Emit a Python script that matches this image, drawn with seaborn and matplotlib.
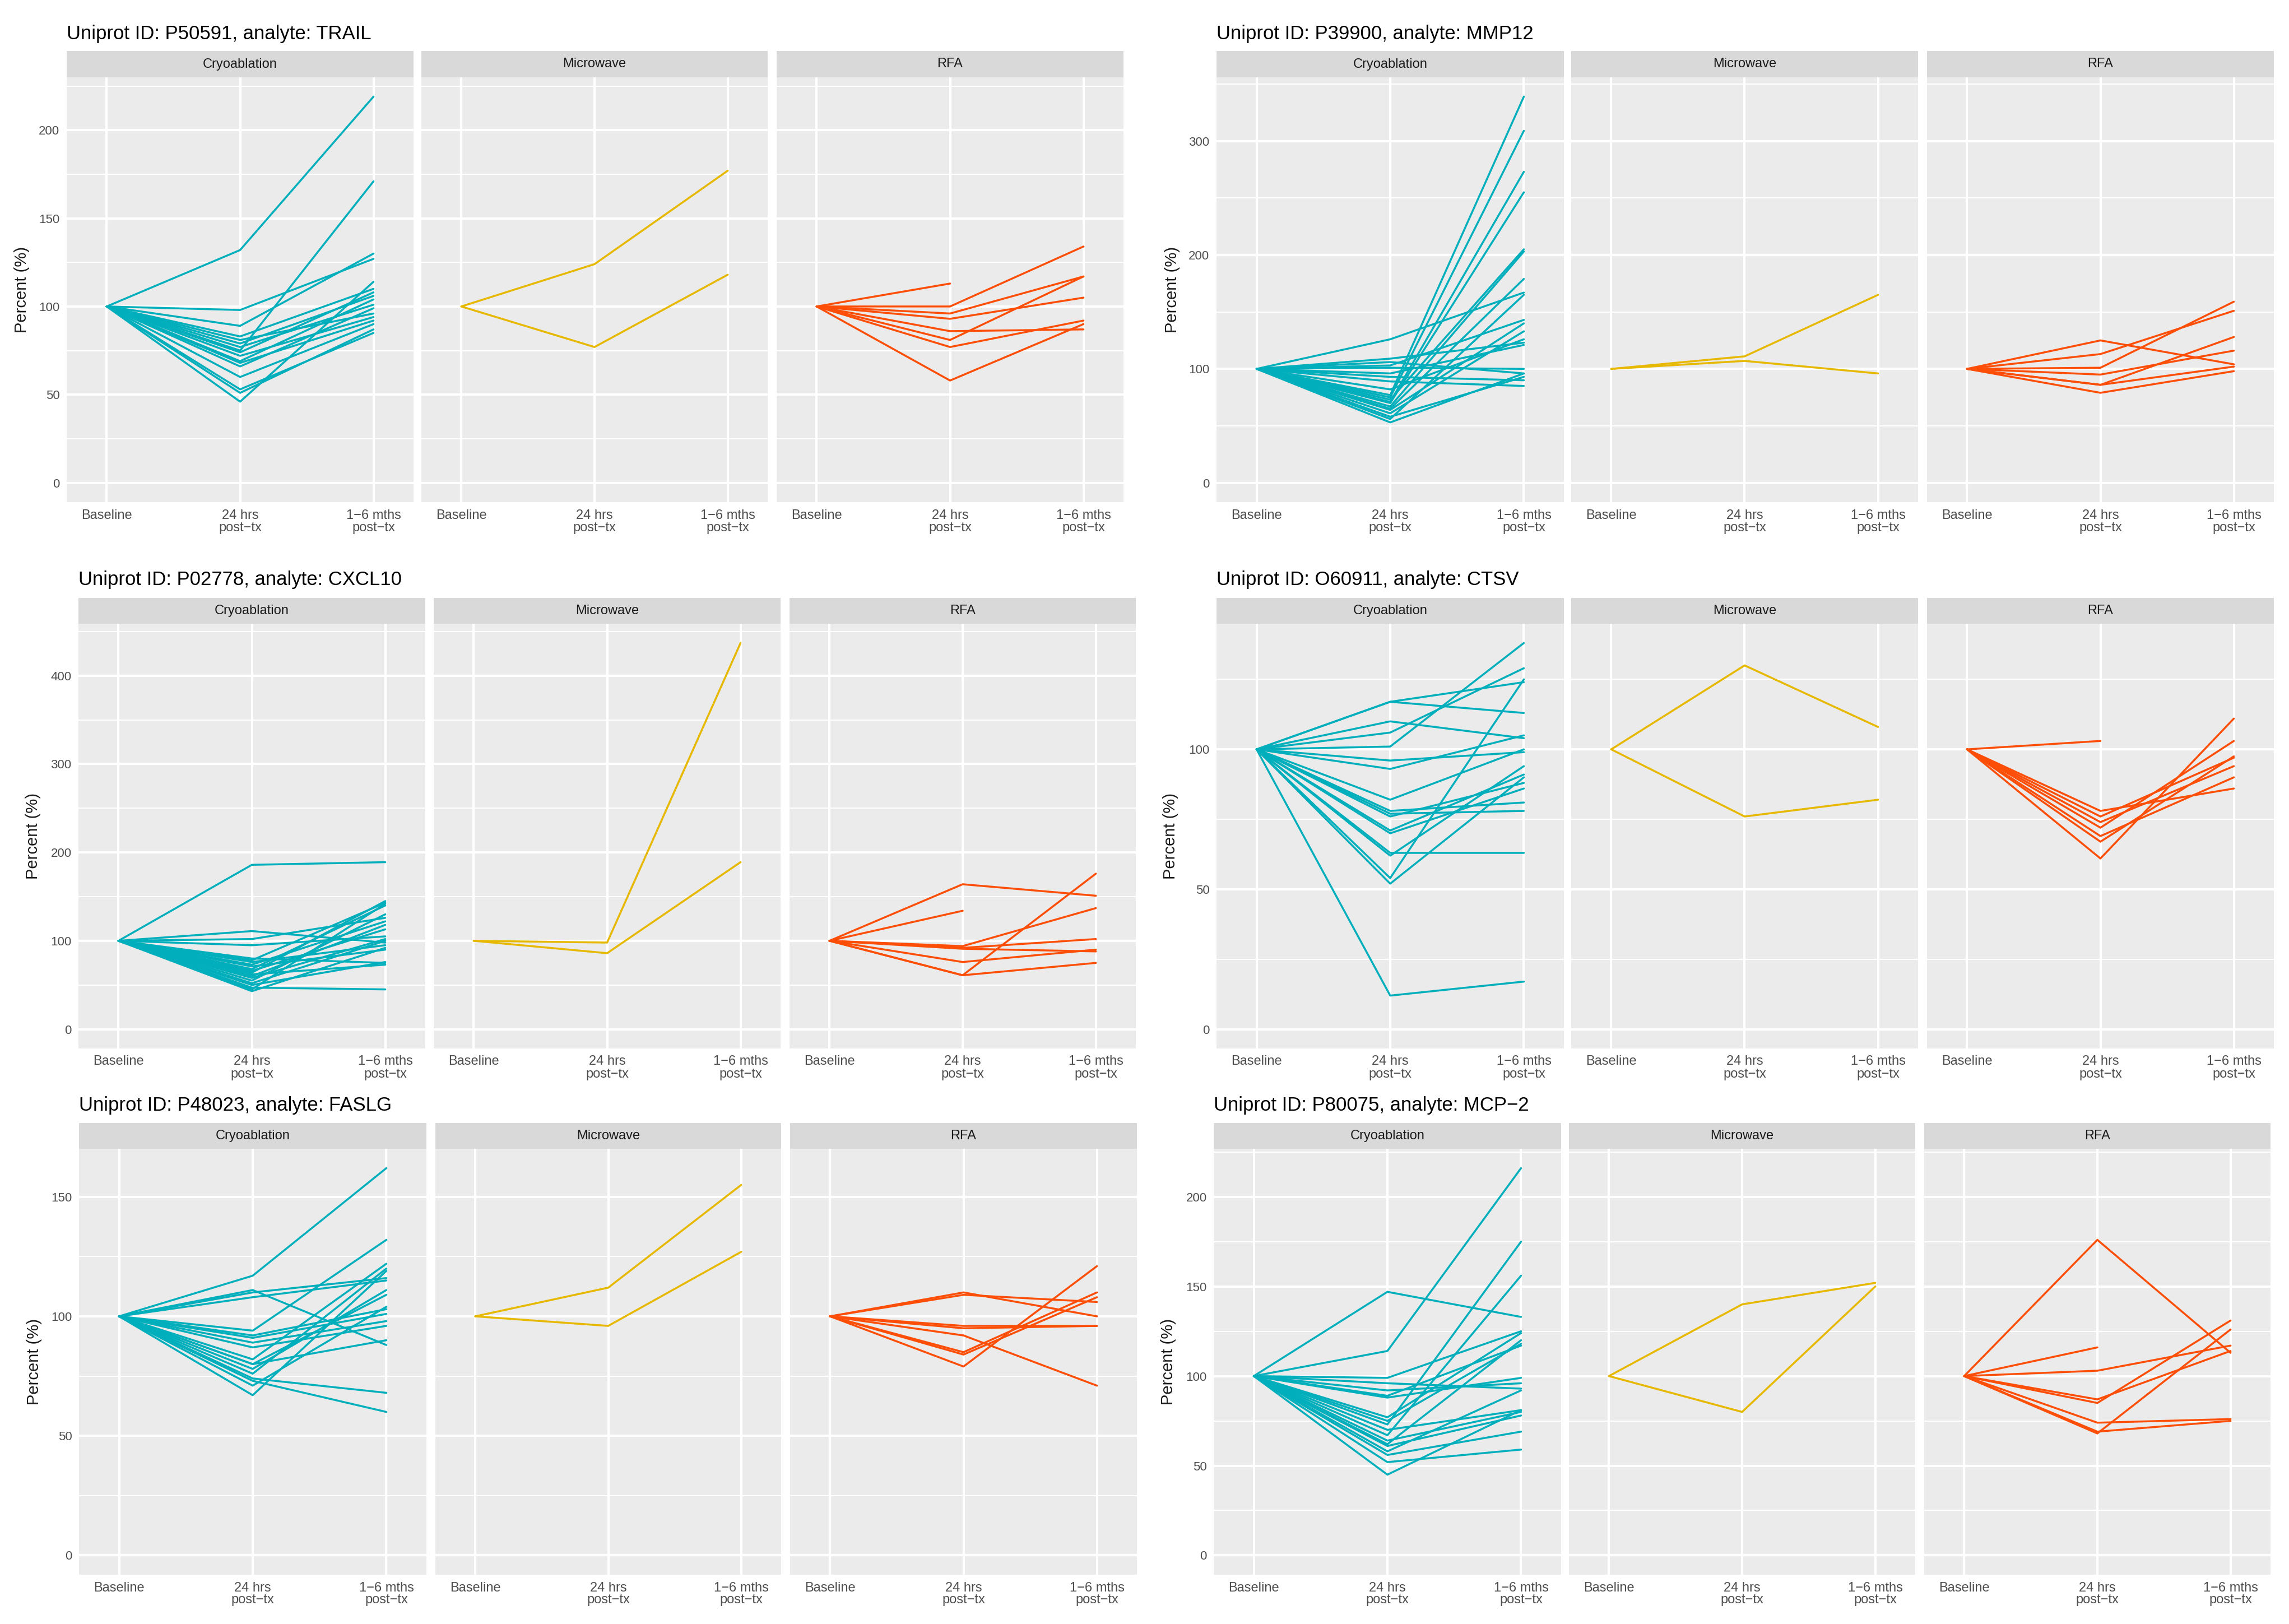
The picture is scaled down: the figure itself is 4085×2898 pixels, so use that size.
import numpy as np
import pandas as pd
import seaborn as sns
import matplotlib.pyplot as plt

# Categories
timepoints = ['Baseline', '24 hrs\npost\u2212tx', '1\u22126 mths\npost\u2212tx']
modalities = ['Cryoablation', 'Microwave', 'RFA']
palette = {'Cryoablation': '#00AFBB', 'Microwave': '#E7B800', 'RFA': '#FC4E07'}
nan = np.nan

# Percent of baseline (baseline = 100) at 24 hrs and 1-6 mths, one entry per patient
# P50591 / TRAIL
trail_cryo_24h = [132, 98, 89, 83, 81, 79, 77, 75, 74, 72, 69, 68, 66, 60, 53, 51, 46]
trail_cryo_6m = [219, 127, 130, 110, 96, 106, 101, 171, 108, 94, 104, 92, 99, 90, 85, 87, 114]
trail_micro_24h = [124, 77]
trail_micro_6m = [177, 118]
trail_rfa_24h = [113, 100, 96, 93, 86, 81, 77, 58]
trail_rfa_6m = [nan, 134, 117, 105, 87, 117, 92, 90]

# P39900 / MMP12
mmp12_cryo_24h = [126, 109, 106, 103, 101, 96, 93, 89, 82, 77, 75, 73, 71, 70, 67, 65, 64, 61, 58, 56, 53]
mmp12_cryo_6m = [167, 123, 96, 143, 100, 121, 90, 85, 126, 339, 309, 205, 273, 255, 203, 179, 140, 133, 93, 165, 96]
mmp12_micro_24h = [111, 107]
mmp12_micro_6m = [165, 96]
mmp12_rfa_24h = [125, 113, 101, 95, 86, 86, 79]
mmp12_rfa_6m = [104, 151, 159, 116, 128, 102, 98]

# P02778 / CXCL10
cxcl10_cryo_24h = [186, 111, 102, 95, 80, 78, 76, 73, 71, 68, 66, 64, 62, 60, 58, 55, 52, 50, 47, 45, 43]
cxcl10_cryo_6m = [189, 98, 126, 105, 75, 143, 95, 122, 90, 140, 113, 145, 73, 118, 102, 130, 100, 76, 45, 142, 92]
cxcl10_micro_24h = [98, 86]
cxcl10_micro_6m = [437, 189]
cxcl10_rfa_24h = [164, 134, 94, 92, 91, 76, 61, 61]
cxcl10_rfa_6m = [151, nan, 137, 102, 88, 90, 176, 75]

# O60911 / CTSV
ctsv_cryo_24h = [117, 117, 110, 106, 101, 96, 93, 82, 78, 77, 76, 71, 70, 63, 62, 54, 52, 12]
ctsv_cryo_6m = [124, 113, 104, 129, 138, 99, 105, 100, 81, 78, 88, 91, 86, 63, 94, 125, 90, 17]
ctsv_micro_24h = [130, 76]
ctsv_micro_6m = [108, 82]
ctsv_rfa_24h = [103, 78, 76, 74, 72, 69, 67, 61]
ctsv_rfa_6m = [nan, 86, 97, 94, 103, 90, 97.5, 111]

# P48023 / FASLG
faslg_cryo_24h = [117, 111, 110, 108, 94, 92, 91, 89, 87, 82, 80, 78, 76, 74, 73, 71, 67, 80]
faslg_cryo_6m = [162, 88, 116, 115, 132, 103, 101, 98, 96, 122, 109, 111, 120, 68, 60, 104, 119, 90]
faslg_micro_24h = [112, 96]
faslg_micro_6m = [155, 127]
faslg_rfa_24h = [110, 109, 96, 95, 92, 85, 84, 79]
faslg_rfa_6m = [100, 106, 96, 96, 71, 110, 108, 121]

# P80075 / MCP-2
mcp2_cryo_24h = [147, 114, 99, 96, 92, 89, 88, 77, 75, 73, 70, 67, 64, 62, 61, 58, 56, 52, 45]
mcp2_cryo_6m = [133, 216, 125, 93, 96, 117, 99, 124, 118, 175, 81, 156, 80, 120, 78, 92, 69, 59, 81]
mcp2_micro_24h = [140, 80]
mcp2_micro_6m = [152, 150]
mcp2_rfa_24h = [176, 116, 103, 87, 85, 74, 68, 69]
mcp2_rfa_6m = [113, nan, 117, 114, 131, 76, 126, 75]

analytes = [
    ('P50591', 'TRAIL', [(trail_cryo_24h, trail_cryo_6m), (trail_micro_24h, trail_micro_6m), (trail_rfa_24h, trail_rfa_6m)]),
    ('P39900', 'MMP12', [(mmp12_cryo_24h, mmp12_cryo_6m), (mmp12_micro_24h, mmp12_micro_6m), (mmp12_rfa_24h, mmp12_rfa_6m)]),
    ('P02778', 'CXCL10', [(cxcl10_cryo_24h, cxcl10_cryo_6m), (cxcl10_micro_24h, cxcl10_micro_6m), (cxcl10_rfa_24h, cxcl10_rfa_6m)]),
    ('O60911', 'CTSV', [(ctsv_cryo_24h, ctsv_cryo_6m), (ctsv_micro_24h, ctsv_micro_6m), (ctsv_rfa_24h, ctsv_rfa_6m)]),
    ('P48023', 'FASLG', [(faslg_cryo_24h, faslg_cryo_6m), (faslg_micro_24h, faslg_micro_6m), (faslg_rfa_24h, faslg_rfa_6m)]),
    ('P80075', 'MCP\u22122', [(mcp2_cryo_24h, mcp2_cryo_6m), (mcp2_micro_24h, mcp2_micro_6m), (mcp2_rfa_24h, mcp2_rfa_6m)]),
]
tick_steps = [50, 100, 100, 50, 50, 50]

# layout in pixels: panel x extents, title baseline, strip top, strip bottom, panel bottom, ylabel x
W, H = 4085, 2898
layouts = [
    ([(119, 738), (752, 1370), (1386, 2005)], 70, 91, 138, 896, 39),
    ([(2171, 2791), (2804, 3423), (3439, 4058)], 70, 91, 138, 896, 2092),
    ([(140, 759), (774, 1393), (1409, 2027)], 1044, 1067, 1113, 1871, 59),
    ([(2171, 2791), (2804, 3423), (3439, 4058)], 1044, 1067, 1113, 1871, 2089),
    ([(141, 761), (777, 1394), (1410, 2029)], 1982, 2004, 2050, 2810, 61),
    ([(2166, 2786), (2800, 3418), (3434, 4052)], 1982, 2004, 2050, 2810, 2085),
]

sns.set_theme(style='darkgrid')
plt.rcParams['font.family'] = ['Liberation Sans', 'DejaVu Sans']


def box(x0, x1, ytop, ybot):
    return [x0 / W, 1 - ybot / H, (x1 - x0) / W, (ybot - ytop) / H]


fig = plt.figure(figsize=(W / 100, H / 100), dpi=100)
fig.patch.set_facecolor('white')

for (uid, name, series), step, lay in zip(analytes, tick_steps, layouts):
    xs, ytitle, stop, sbot, pbot, ylab_x = lay

    rows = []
    pid = 0
    for mod, (v24, v6) in zip(modalities, series):
        for a, b in zip(v24, v6):
            for tp, v in enumerate([100, a, b]):
                rows.append((mod, pid, tp, v))
            pid += 1
    df = pd.DataFrame(rows, columns=['modality', 'id', 'tp', 'pct'])

    vmax = df['pct'].max()
    ylo, yhi = -0.05 * vmax, 1.05 * vmax
    major = np.arange(0, yhi, step)
    minor = np.arange(-step / 2, yhi, step)
    minor = minor[(minor > ylo) & (minor < yhi)]

    fig.text(xs[0][0] / W, 1 - ytitle / H, f'Uniprot ID: {uid}, analyte: {name}',
             fontsize=25, color='black', ha='left', va='baseline')
    fig.text(ylab_x / W, 1 - ((sbot + pbot) / 2) / H, 'Percent (%)', rotation=90,
             fontsize=21, color='#1A1A1A', ha='center', va='center')

    for i, (mod, (x0, x1)) in enumerate(zip(modalities, xs)):
        sax = fig.add_axes(box(x0, x1, stop, sbot))
        sax.set_facecolor('#D9D9D9')
        sax.set_xticks([])
        sax.set_yticks([])
        for s in sax.spines.values():
            s.set_visible(False)
        sax.text(0.5, 0.5, mod, transform=sax.transAxes, ha='center', va='center',
                 fontsize=17, color='#1A1A1A')

        ax = fig.add_axes(box(x0, x1, sbot, pbot))
        ax.set_facecolor('#EBEBEB')
        sub = df[df['modality'] == mod]
        sns.lineplot(data=sub, x='tp', y='pct', units='id', estimator=None,
                     color=palette[mod], lw=2.5, ax=ax, legend=False, zorder=3)
        ax.set_xlim(-0.3, 2.3)
        ax.set_ylim(ylo, yhi)
        ax.set_xticks([0, 1, 2])
        ax.set_xticklabels(timepoints, fontsize=17, color='#4D4D4D', linespacing=1.0)
        ax.set_yticks(major)
        ax.set_yticks(minor, minor=True)
        ax.set_yticklabels([f'{int(t)}' for t in major], fontsize=16, color='#4D4D4D')
        ax.grid(True, which='major', color='white', lw=3.0, zorder=0)
        ax.grid(True, which='minor', axis='y', color='white', lw=1.5, zorder=0)
        ax.set_axisbelow(True)
        ax.set_xlabel('')
        ax.set_ylabel('')
        for s in ax.spines.values():
            s.set_visible(False)
        ax.tick_params(axis='x', which='major', length=6, width=2.5, color='#333333', pad=3)
        ax.tick_params(axis='y', which='major', length=6, width=2.5, color='#333333', pad=3)
        ax.tick_params(which='minor', length=0)
        if i > 0:
            ax.tick_params(axis='y', which='major', length=0, labelleft=False)

fig.savefig('out.png', dpi=100)
